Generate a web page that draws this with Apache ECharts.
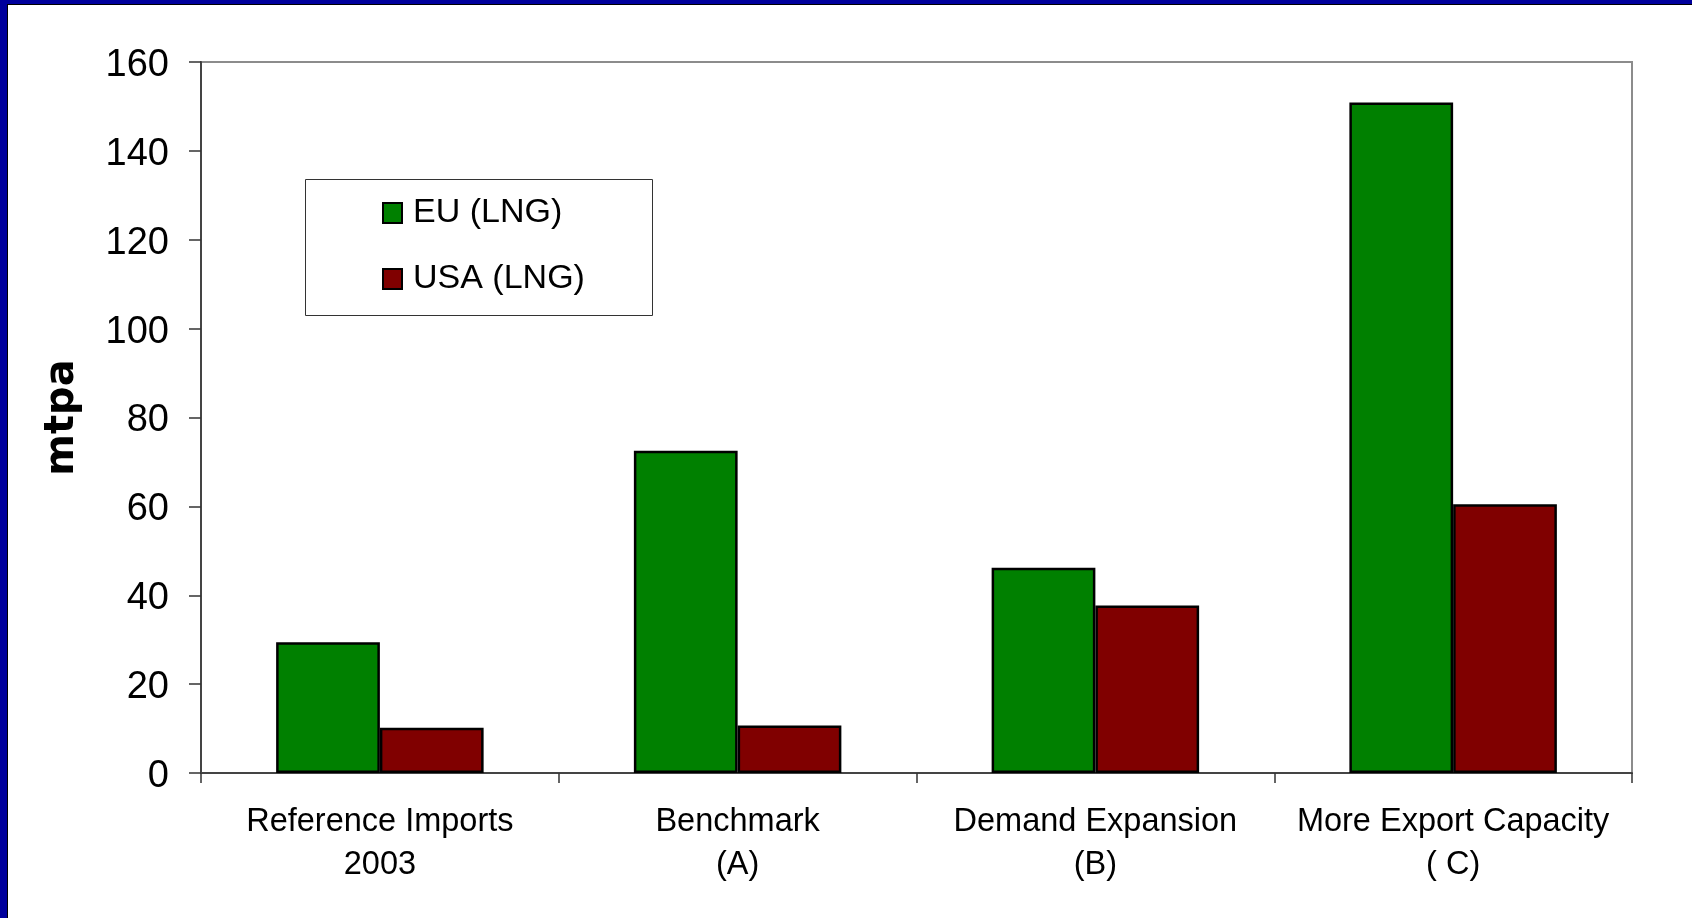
<!DOCTYPE html>
<html>
<head>
<meta charset="utf-8">
<title>LNG imports by scenario</title>
<script src="https://cdn.jsdelivr.net/npm/echarts@6/dist/echarts.min.js"></script>
<style>
  html, body { margin: 0; padding: 0; background: #ffffff; }
  #chart { position: absolute; left: 0; top: 0; width: 1692px; height: 918px; background: #ffffff; }
  .frame { position: absolute; background: #00009c; }
  .edge { position: absolute; background: #000000; }
</style>
</head>
<body>
<div id="chart"></div>
<div class="frame" style="left:0;top:0;width:7px;height:918px;"></div>
<div class="frame" style="left:0;top:0;width:1692px;height:4px;"></div>
<div class="edge" style="left:7px;top:4px;width:1px;height:914px;"></div>
<div class="edge" style="left:7px;top:4px;width:1685px;height:1px;"></div>
<script>
// Scenario categories (two-line labels)
const categories = [
  'Reference Imports\n2003',
  'Benchmark\n(A)',
  'Demand Expansion\n(B)',
  'More Export Capacity\n( C)'
];

// LNG volumes, million tonnes per annum
const euLng = [29.4, 72.5, 46.2, 150.9];
const usaLng = [10.2, 10.7, 37.7, 60.5];

// Value axis ticks
const yMin = 0;
const yMax = 160;
const yStep = 20;

const chart = echarts.init(document.getElementById('chart'), null, { renderer: 'canvas' });

const font = '"Liberation Sans", Arial, sans-serif';

chart.setOption({
  animation: false,
  backgroundColor: '#ffffff',
  textStyle: { fontFamily: font },
  grid: {
    left: 201,
    top: 62,
    right: 60,
    bottom: 145,
    show: true,
    borderColor: '#8c8c8c',
    borderWidth: 2,
    backgroundColor: 'transparent'
  },
  graphic: [{
    type: 'rect',
    left: 305,
    top: 179,
    shape: { width: 347, height: 136 },
    style: { fill: '#ffffff', stroke: '#333333', lineWidth: 1 },
    z: 1
  }],
  legend: {
    orient: 'vertical',
    left: 382,
    top: 196,
    padding: 0,
    itemWidth: 19,
    itemHeight: 20,
    itemGap: 32,
    icon: 'rect',
    z: 5,
    textStyle: {
      fontFamily: font,
      fontSize: 34,
      color: '#000000',
      lineHeight: 20,
      padding: [0, 0, 0, 6]
    },
    data: ['EU (LNG)', 'USA (LNG)']
  },
  xAxis: {
    type: 'category',
    data: categories,
    axisLine: { show: true, lineStyle: { color: '#444444', width: 2 } },
    axisTick: { show: true, length: 10, lineStyle: { color: '#333333', width: 1.5 } },
    axisLabel: {
      fontFamily: font,
      fontSize: 32.5,
      color: '#000000',
      lineHeight: 43,
      margin: 28,
      interval: 0
    },
    splitLine: { show: false }
  },
  yAxis: {
    type: 'value',
    min: yMin,
    max: yMax,
    interval: yStep,
    name: 'mtpa',
    nameLocation: 'middle',
    nameRotate: 90,
    nameGap: 118,
    nameTextStyle: {
      fontFamily: '"DejaVu Sans", sans-serif',
      fontWeight: 'bold',
      fontSize: 40,
      color: '#000000'
    },
    axisLine: { show: true, lineStyle: { color: '#444444', width: 2 } },
    axisTick: { show: true, length: 12, lineStyle: { color: '#333333', width: 1.5 } },
    axisLabel: {
      fontFamily: font,
      fontSize: 38,
      color: '#000000',
      margin: 32,
      formatter: '{v|{value}}',
      rich: {
        v: {
          fontFamily: font,
          fontSize: 38,
          color: '#000000',
          padding: [7, 0, 0, 0]
        }
      }
    },
    splitLine: { show: false }
  },
  series: [
    {
      name: 'EU (LNG)',
      type: 'bar',
      data: euLng,
      barGap: '0%',
      barCategoryGap: '42%',
      itemStyle: { color: '#008000', borderColor: '#000000', borderWidth: 2.5 }
    },
    {
      name: 'USA (LNG)',
      type: 'bar',
      data: usaLng,
      barGap: '0%',
      barCategoryGap: '42%',
      itemStyle: { color: '#800000', borderColor: '#000000', borderWidth: 2.5 }
    }
  ]
});
</script>
</body>
</html>
